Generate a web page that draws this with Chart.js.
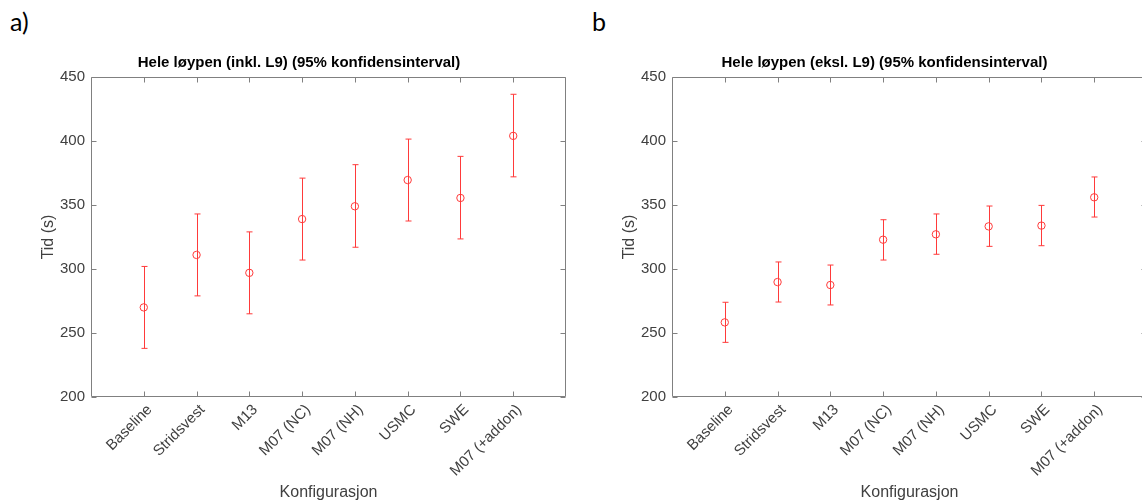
<!DOCTYPE html>
<html><head><meta charset="utf-8">
<script src="https://cdn.jsdelivr.net/npm/chart.js@4.4.1/dist/chart.umd.min.js"></script>
<style>
html,body{margin:0;padding:0;background:#fff;overflow:hidden;width:1142px;height:502px;position:relative;}
#c1{position:absolute;left:0;top:0;}
#c2{position:absolute;left:600px;top:0;}
.lbl{position:absolute;font-family:Lato,'Open Sans',sans-serif;font-size:25px;color:#000;line-height:1;}
</style></head><body>
<div class="lbl" style="left:10px;top:9px">a)</div>
<div class="lbl" style="left:592px;top:9px">b</div>
<canvas id="c1" width="598" height="502"></canvas>
<canvas id="c2" width="569" height="502"></canvas>
<script>
const categories = ['Baseline','Stridsvest','M13','M07 (NC)','M07 (NH)','USMC','SWE','M07 (+addon)'];
const yTicks = [200,250,300,350,400,450];
// a) Hele løypen (inkl. L9)
const meanInkl = [270, 311, 297, 339, 349, 369.5, 355.5, 404];
const lowInkl  = [238, 279, 265, 307, 317, 337.5, 323.5, 372];
const highInkl = [302, 343, 329, 371, 381.5, 401.5, 388, 436.5];
// b) Hele løypen (eksl. L9)
const meanEksl = [258.3, 289.8, 287.5, 322.9, 327.1, 333.3, 333.9, 356];
const lowEksl  = [242.7, 274.2, 271.9, 307, 311.5, 317.7, 318.2, 340.6];
const highEksl = [274, 305.5, 303.1, 338.5, 343, 349.2, 349.7, 371.9];

const FONT = "'Liberation Sans', Arial, Helvetica, sans-serif";
const RED = '#ff3a3a';
const AXC = '#808080';
const TXT = '#404040';
Chart.defaults.font.family = FONT;

const framePlugin = {
  id: 'frame',
  beforeDatasetsDraw(chart) {
    const {ctx, chartArea: a, scales: {x, y}} = chart;
    ctx.save();
    ctx.strokeStyle = AXC;
    ctx.lineWidth = 1;
    ctx.beginPath();
    const L = Math.round(a.left) + 0.5, R = Math.round(a.right) - 0.5;
    const T = Math.round(a.top) + 0.5, B = Math.round(a.bottom) - 0.5;
    ctx.moveTo(L, T); ctx.lineTo(R, T); ctx.lineTo(R, B); ctx.lineTo(L, B); ctx.closePath();
    const tl = 5;
    x.ticks.forEach(t => {
      const px = Math.round(x.getPixelForValue(t.value)) + 0.5;
      ctx.moveTo(px, B); ctx.lineTo(px, B - tl);
      ctx.moveTo(px, T); ctx.lineTo(px, T + tl);
    });
    y.ticks.forEach(t => {
      const py = Math.round(y.getPixelForValue(t.value)) + 0.5;
      ctx.moveTo(L, py); ctx.lineTo(L + tl, py);
      ctx.moveTo(R, py); ctx.lineTo(R - tl, py);
    });
    ctx.stroke();
    ctx.restore();
  }
};

const errorBarPlugin = {
  id: 'errorBars',
  afterDatasetsDraw(chart, args, opts) {
    const {ctx, scales: {x, y}} = chart;
    ctx.save();
    ctx.strokeStyle = RED;
    ctx.lineWidth = 1;
    ctx.beginPath();
    opts.low.forEach((lo, i) => {
      const px = Math.round(x.getPixelForValue(i + 1)) + 0.5;
      const pl = y.getPixelForValue(lo);
      const ph = y.getPixelForValue(opts.high[i]);
      ctx.moveTo(px, pl); ctx.lineTo(px, ph);
      ctx.moveTo(px - 3, ph); ctx.lineTo(px + 3, ph);
      ctx.moveTo(px - 3, pl); ctx.lineTo(px + 3, pl);
    });
    ctx.stroke();
    ctx.restore();
  }
};

function makeChart(id, title, mean, low, high, yAxisW, y2W, yTitlePad) {
  return new Chart(document.getElementById(id), {
    type: 'line',
    data: {
      datasets: [{
        data: mean.map((v, i) => ({x: i + 1, y: v})),
        showLine: false,
        pointStyle: 'circle',
        pointRadius: 3.7,
        pointBorderWidth: 1,
        pointBorderColor: RED,
        pointBackgroundColor: 'rgba(0,0,0,0)',
        borderColor: RED
      }]
    },
    options: {
      responsive: false,
      animation: false,
      layout: {padding: 0},
      plugins: {
        legend: {display: false},
        tooltip: {enabled: false},
        title: {
          display: true, text: title, color: '#000',
          font: {family: FONT, size: 15, weight: 'bold'},
          padding: {top: 54, bottom: 5}
        },
        errorBars: {low: low, high: high}
      },
      scales: {
        x: {
          type: 'linear', min: 0, max: 9,
          afterBuildTicks: s => { s.ticks = categories.map((c, i) => ({value: i + 1})); },
          ticks: {
            autoSkip: false, minRotation: 45, maxRotation: 45, padding: 4, labelOffset: 6,
            color: TXT, font: {family: FONT, size: 15},
            callback: v => categories[v - 1] ?? ''
          },
          grid: {display: false, drawTicks: false},
          border: {display: false},
          title: {display: true, text: 'Konfigurasjon', color: TXT,
                  font: {family: FONT, size: 16}, padding: {top: 0, bottom: 0}},
          afterFit: s => { s.height = 105; }
        },
        y: {
          type: 'linear', min: 200, max: 450,
          afterBuildTicks: s => { s.ticks = yTicks.map(v => ({value: v})); },
          ticks: {padding: 6, color: TXT, font: {family: FONT, size: 15}},
          grid: {display: false, drawTicks: false},
          border: {display: false},
          title: {display: true, text: 'Tid (s)', color: TXT,
                  font: {family: FONT, size: 16}, padding: {top: yTitlePad, bottom: 0}},
          afterFit: s => { s.width = yAxisW; }
        },
        y2: {
          type: 'linear', position: 'right', min: 200, max: 450, display: true,
          ticks: {display: false},
          grid: {display: false, drawTicks: false},
          border: {display: false},
          afterFit: s => { s.width = y2W; }
        }
      }
    },
    plugins: [framePlugin, errorBarPlugin]
  });
}

makeChart('c1', 'Hele løypen (inkl. L9) (95% konfidensinterval)', meanInkl, lowInkl, highInkl, 91, 32, 39);
makeChart('c2', 'Hele løypen (eksl. L9) (95% konfidensinterval)', meanEksl, lowEksl, highEksl, 72, 22, 20);
</script>
</body></html>
